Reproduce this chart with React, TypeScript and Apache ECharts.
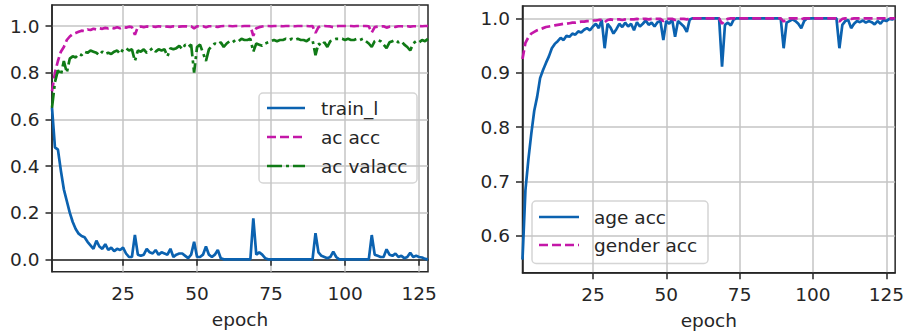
import React, { useEffect, useRef } from "react";
import * as echarts from "echarts";

const trainL = [
  0.65, 0.48, 0.47, 0.38, 0.30, 0.25, 0.20, 0.16, 0.13, 0.11,
  0.10, 0.095, 0.075, 0.06, 0.045, 0.08, 0.055, 0.045, 0.065, 0.04,
  0.05, 0.035, 0.045, 0.04, 0.05, 0.025, 0.01, 0.01, 0.105, 0.02,
  0.015, 0.02, 0.045, 0.03, 0.025, 0.04, 0.02, 0.03, 0.025, 0.02,
  0.045, 0.01, 0.02, 0.025, 0.025, 0.015, 0.005, 0.02, 0.075, 0.01,
  0.01, 0.02, 0.055, 0.02, 0.01, 0.02, 0.04, 0.005, 0.0, 0.0,
  0, 0, 0, 0, 0, 0, 0, 0, 0.176, 0.02,
  0.03, 0.02, 0.005, 0, 0, 0, 0, 0, 0, 0,
  0, 0, 0, 0, 0, 0, 0, 0, 0, 0.112,
  0.03, 0.015, 0.01, 0.005, 0.01, 0.033, 0.01, 0, 0, 0,
  0, 0, 0, 0, 0, 0, 0, 0, 0.104, 0.02,
  0.015, 0.01, 0.01, 0.043, 0.02, 0.015, 0.025, 0.01, 0.015, 0.005,
  0.01, 0.028, 0.01, 0.015, 0.01, 0.008, 0.002, 0.0,
];

const acAcc = [
  0.72, 0.80, 0.85, 0.89, 0.91, 0.94, 0.955, 0.965, 0.97, 0.975,
  0.98, 0.978, 0.985, 0.983, 0.988, 0.985, 0.99, 0.988, 0.992, 0.99,
  0.993, 0.99, 0.995, 0.99, 0.996, 0.993, 0.997, 0.995, 0.962, 0.996,
  0.998, 0.995, 0.998, 0.997, 0.998, 0.996, 0.999, 0.997, 0.998, 0.997,
  0.996, 0.999, 0.998, 0.997, 0.998, 0.999, 0.998, 0.999, 0.99, 0.999,
  0.998, 0.999, 0.995, 0.999, 0.999, 0.998, 0.996, 0.999, 1.0, 1.0,
  1.0, 0.999, 1.0, 1.0, 0.999, 1.0, 1.0, 1.0, 0.958, 0.99,
  0.995, 0.998, 1.0, 1.0, 0.999, 1.0, 1.0, 1.0, 0.999, 1.0,
  1.0, 1.0, 0.999, 1.0, 1.0, 1.0, 1.0, 0.999, 1.0, 0.97,
  0.995, 0.998, 1.0, 0.999, 0.998, 0.995, 0.999, 1.0, 1.0, 1.0,
  1.0, 1.0, 0.999, 1.0, 1.0, 1.0, 1.0, 0.999, 0.972, 0.995,
  0.997, 0.998, 0.999, 0.993, 0.997, 0.998, 0.996, 0.999, 0.999, 0.998,
  0.999, 0.997, 0.999, 0.999, 1.0, 0.999, 1.0, 1.0,
];

const acValAcc = [
  0.65, 0.76, 0.81, 0.79, 0.85, 0.80, 0.86, 0.87, 0.865, 0.88,
  0.875, 0.89, 0.885, 0.895, 0.89, 0.885, 0.875, 0.89, 0.88, 0.885,
  0.88, 0.89, 0.895, 0.88, 0.90, 0.905, 0.895, 0.90, 0.85, 0.895,
  0.89, 0.90, 0.885, 0.895, 0.905, 0.89, 0.90, 0.895, 0.90, 0.87,
  0.905, 0.90, 0.905, 0.915, 0.90, 0.92, 0.91, 0.92, 0.80, 0.91,
  0.92, 0.885, 0.85, 0.90, 0.915, 0.925, 0.92, 0.93, 0.91, 0.925,
  0.935, 0.93, 0.94, 0.935, 0.945, 0.94, 0.94, 0.945, 0.89, 0.925,
  0.92, 0.915, 0.925, 0.93, 0.935, 0.94, 0.935, 0.94, 0.94, 0.945,
  0.94, 0.945, 0.94, 0.945, 0.94, 0.94, 0.935, 0.945, 0.94, 0.875,
  0.925, 0.915, 0.93, 0.91, 0.935, 0.94, 0.945, 0.945, 0.945, 0.94,
  0.945, 0.94, 0.94, 0.945, 0.94, 0.945, 0.935, 0.925, 0.91, 0.935,
  0.94, 0.935, 0.92, 0.905, 0.93, 0.935, 0.94, 0.93, 0.935, 0.92,
  0.91, 0.895, 0.925, 0.935, 0.93, 0.94, 0.935, 0.945,
];

const ageAcc = [
  0.556, 0.684, 0.74, 0.788, 0.83, 0.856, 0.89, 0.905, 0.918, 0.93,
  0.945, 0.953, 0.958, 0.964, 0.96, 0.968, 0.966, 0.972, 0.97, 0.976,
  0.974, 0.979, 0.982, 0.978, 0.985, 0.99, 0.982, 0.997, 0.945, 0.99,
  0.983, 0.972, 0.98, 0.99, 0.984, 0.992, 0.985, 0.99, 0.978, 0.993,
  0.985, 0.99, 0.996, 0.988, 0.992, 0.985, 0.993, 0.995, 0.96, 0.995,
  0.99, 0.998, 0.966, 0.995, 0.99, 0.985, 0.975, 0.998, 1.0, 1.0,
  1.0, 1.0, 1.0, 1.0, 1.0, 1.0, 1.0, 1.0, 0.911, 0.988,
  0.992, 0.987, 0.998, 1.0, 1.0, 1.0, 1.0, 1.0, 1.0, 1.0,
  1.0, 1.0, 1.0, 1.0, 1.0, 1.0, 1.0, 1.0, 1.0, 0.945,
  0.992, 0.995, 0.998, 0.995, 0.99, 0.982, 0.995, 1.0, 1.0, 1.0,
  1.0, 1.0, 1.0, 1.0, 1.0, 1.0, 1.0, 1.0, 0.945, 0.988,
  0.995, 0.997, 0.982, 0.99, 0.995, 0.993, 0.996, 0.992, 0.995, 0.993,
  0.989, 0.995, 0.99, 0.997, 0.995, 0.999, 0.998, 1.0,
];

const genderAcc = [
  0.925, 0.955, 0.965, 0.972, 0.975, 0.978, 0.98, 0.982, 0.984, 0.985,
  0.986, 0.987, 0.988, 0.989, 0.99, 0.99, 0.991, 0.992, 0.992, 0.993,
  0.994, 0.994, 0.995, 0.995, 0.996, 0.996, 0.997, 0.997, 0.993, 0.997,
  0.998, 0.997, 0.998, 0.998, 0.997, 0.998, 0.999, 0.998, 0.998, 0.999,
  0.998, 0.999, 0.999, 0.998, 0.999, 0.999, 0.999, 0.999, 0.995, 0.999,
  0.999, 0.999, 0.997, 0.999, 0.999, 0.999, 0.998, 1.0, 1.0, 1.0,
  1.0, 1.0, 1.0, 1.0, 1.0, 1.0, 1.0, 1.0, 0.99, 0.997,
  0.999, 1.0, 1.0, 1.0, 1.0, 1.0, 1.0, 1.0, 1.0, 1.0,
  1.0, 1.0, 1.0, 1.0, 1.0, 1.0, 1.0, 1.0, 1.0, 0.994,
  0.999, 1.0, 1.0, 1.0, 1.0, 0.998, 1.0, 1.0, 1.0, 1.0,
  1.0, 1.0, 1.0, 1.0, 1.0, 1.0, 1.0, 1.0, 0.994, 0.999,
  1.0, 1.0, 0.999, 1.0, 1.0, 1.0, 1.0, 1.0, 1.0, 1.0,
  1.0, 1.0, 1.0, 1.0, 1.0, 1.0, 1.0, 1.0,
];

const xTicks = [25, 50, 75, 100, 125];
const yTicksLeft = [0, 0.2, 0.4, 0.6, 0.8, 1.0];
const yTicksRight = [0.6, 0.7, 0.8, 0.9, 1.0];
const leftLegend = ["train_l", "ac acc", "ac valacc"];
const rightLegend = ["age acc", "gender acc"];

const FONT = "DejaVu Sans";
const INK = "#262626";
const BLUE = "#0b62b0";
const MAGENTA = "#c417a8";
const GREEN = "#107a16";
const FS = 18.5;
const LW = 2.7;
const DASH = [9, 4];
const DASHDOT = [15, 4, 3, 4];

const pairs = (arr: number[]) => arr.map((v, i) => [i + 1, v]);

export default function App() {
  const ref = useRef<HTMLDivElement>(null);
  useEffect(() => {
    if (!ref.current) return;
    const chart = echarts.init(ref.current, null, { renderer: "svg" });

    const xAxisCfg = (gridIndex: number) => ({
      type: "value",
      gridIndex,
      min: 1,
      max: 128,
      axisLine: { show: true, lineStyle: { color: INK, width: 1.5 } },
      axisTick: { show: true, length: 6.5, customValues: xTicks, lineStyle: { color: INK, width: 1.5 } },
      axisLabel: { customValues: xTicks, margin: 12.5, fontSize: FS, color: INK, fontFamily: FONT },
      splitLine: { show: true, lineStyle: { color: "#c4c4c4", width: 1.5 } },
      name: "epoch",
      nameLocation: "middle",
      nameGap: 38,
      nameTextStyle: { fontSize: FS, color: INK, fontFamily: FONT },
    });

    const yAxisCfg = (gridIndex: number, min: number, max: number, ticks: number[]) => ({
      type: "value",
      gridIndex,
      min,
      max,
      axisLine: { show: true, lineStyle: { color: INK, width: 1.5 } },
      axisTick: { show: true, length: 6.5, customValues: ticks, lineStyle: { color: INK, width: 1.5 } },
      axisLabel: {
        customValues: ticks,
        margin: 12.5,
        fontSize: FS,
        color: INK,
        fontFamily: FONT,
        formatter: (v: number) => v.toFixed(1),
      },
      splitLine: { show: true, lineStyle: { color: "#c4c4c4", width: 1.5 } },
    });

    const lineSeries = (name: string, data: number[], idx: number, color: string, type: any) => ({
      type: "line",
      name,
      data: pairs(data),
      xAxisIndex: idx,
      yAxisIndex: idx,
      showSymbol: false,
      symbol: "none",
      lineStyle: { color, width: LW, type },
      itemStyle: { color },
    });

    const legendGraphic = (
      bx: number, by: number, bw: number, bh: number,
      lx0: number, lx1: number, tx: number, ys: number[],
      labels: string[], styles: { color: string; dash: number[] | null }[]
    ) => {
      const children: any[] = [
        {
          type: "rect",
          z2: 0,
          shape: { x: bx, y: by, width: bw, height: bh, r: 4 },
          style: { fill: "#ffffff", opacity: 0.9, stroke: "#d0d0d0", lineWidth: 1.5 },
        },
      ];
      labels.forEach((lab, i) => {
        const st: any = { stroke: styles[i].color, lineWidth: LW, opacity: 1 };
        if (styles[i].dash) st.lineDash = styles[i].dash;
        children.push({
          type: "line",
          z2: 5,
          shape: { x1: lx0, y1: ys[i], x2: lx1, y2: ys[i] },
          style: st,
        });
        children.push({
          type: "text",
          z2: 6,
          x: tx,
          y: ys[i],
          style: {
            text: lab,
            fontSize: FS,
            fontFamily: FONT,
            fill: INK,
            verticalAlign: "middle",
            align: "left",
          },
        });
      });
      return { type: "group", z: 100, children };
    };

    chart.setOption({
      animation: false,
      grid: [
        { left: 52, top: 5, width: 376, height: 266.7, show: true, borderColor: INK, borderWidth: 1.5 },
        { left: 522.5, top: 6, width: 375, height: 266.7, show: true, borderColor: INK, borderWidth: 1.5 },
      ],
      xAxis: [xAxisCfg(0), xAxisCfg(1)],
      yAxis: [yAxisCfg(0, -0.053, 1.09, yTicksLeft), yAxisCfg(1, 0.532, 1.0227, yTicksRight)],
      series: [
        lineSeries(leftLegend[0], trainL, 0, BLUE, "solid"),
        lineSeries(leftLegend[1], acAcc, 0, MAGENTA, DASH),
        lineSeries(leftLegend[2], acValAcc, 0, GREEN, DASHDOT),
        lineSeries(rightLegend[0], ageAcc, 1, BLUE, "solid"),
        lineSeries(rightLegend[1], genderAcc, 1, MAGENTA, DASH),
      ],
      graphic: [
        legendGraphic(259, 93, 158, 90, 267, 305, 321, [108, 137, 166], leftLegend, [
          { color: BLUE, dash: null },
          { color: MAGENTA, dash: DASH },
          { color: GREEN, dash: DASHDOT },
        ]),
        legendGraphic(532, 201, 176, 62.5, 539, 579, 594, [217, 245], rightLegend, [
          { color: BLUE, dash: null },
          { color: MAGENTA, dash: DASH },
        ]),
      ],
    });
    return () => chart.dispose();
  }, []);

  return (
    <div
      ref={ref}
      style={{ position: "fixed", left: 0, top: 0, width: 907, height: 336, background: "#fff" }}
    />
  );
}
